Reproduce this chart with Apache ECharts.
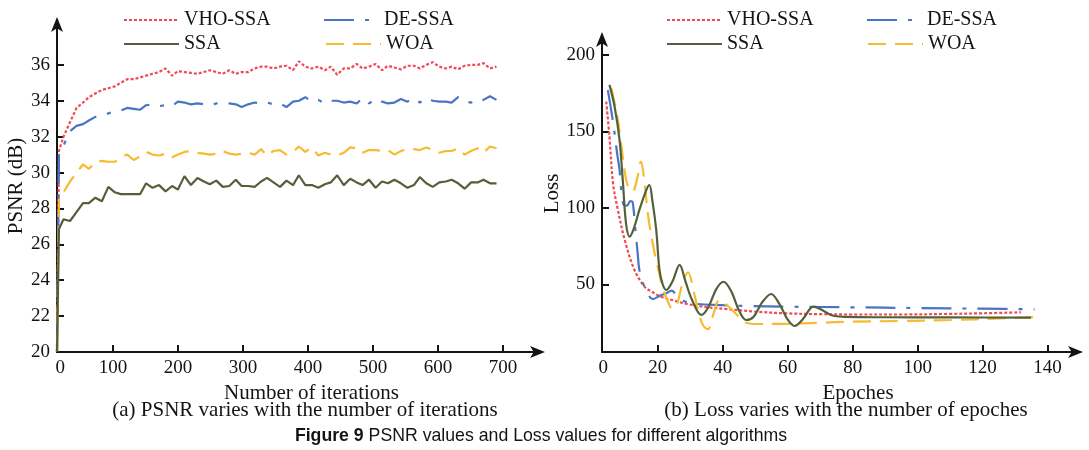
<!DOCTYPE html>
<html>
<head>
<meta charset="utf-8">
<script src="https://cdn.jsdelivr.net/npm/echarts@6/dist/echarts.min.js"></script>
<style>html,body{margin:0;padding:0;background:#fff;}#c{width:1089px;height:450px;}</style>
</head>
<body>
<div id="c"></div>
<script>
// ---- (a) PSNR vs iterations ----
const iterations = [14,17,24,34,44,54,63,73,83,93,103,112,122,132,142,151,161,171,181,191,200,210,220,230,240,249,259,269,279,289,298,308,318,328,337,347,357,367,377,386,396,406,416,426,435,445,455,465,475,484,494,504,514,523,533,543,553,563,572,582,592,602,612,621,631,641,651,661,670,680,690];
const psnrVHO = [20,31.2,32.0,32.8,33.6,33.9,34.2,34.4,34.6,34.7,34.8,35.0,35.2,35.2,35.3,35.4,35.5,35.6,35.8,35.4,35.65,35.6,35.55,35.5,35.6,35.7,35.6,35.5,35.7,35.5,35.6,35.6,35.8,35.9,35.9,35.8,35.9,35.95,35.7,36.2,35.9,35.8,35.9,35.7,35.9,35.45,35.8,35.8,36.05,35.8,35.9,36.05,35.7,35.95,35.85,35.75,35.95,35.95,35.8,36.0,36.15,35.9,35.8,35.9,35.75,35.95,36.0,36.0,36.1,35.8,35.9];
const psnrDE = [20,31.1,31.5,32.3,32.6,32.7,32.9,33.1,33.15,33.3,33.4,33.45,33.6,33.55,33.5,33.75,33.8,33.7,33.75,33.7,33.95,33.9,33.8,33.85,33.8,33.75,33.85,33.9,33.85,33.8,33.65,33.8,33.9,33.85,33.9,33.8,33.85,33.65,33.95,34.0,34.2,33.95,34.05,33.85,34.0,34.0,33.9,33.95,33.85,34.15,33.85,34.1,33.95,33.85,33.9,34.1,33.95,34.15,33.9,34.15,34.0,33.95,33.95,33.9,34.2,33.95,33.9,34.1,34.05,34.25,34.05];
const psnrSSA = [20,26.85,27.4,27.3,27.8,28.3,28.3,28.6,28.4,29.2,28.9,28.8,28.8,28.8,28.8,29.4,29.15,29.3,28.95,29.25,29.05,29.8,29.3,29.7,29.5,29.35,29.55,29.2,29.25,29.6,29.25,29.25,29.2,29.5,29.7,29.45,29.2,29.55,29.3,29.85,29.3,29.3,29.15,29.35,29.45,29.85,29.3,29.65,29.45,29.3,29.6,29.15,29.5,29.4,29.6,29.4,29.15,29.3,29.75,29.4,29.2,29.45,29.5,29.6,29.4,29.1,29.45,29.45,29.6,29.4,29.4];
const psnrWOA = [20,28.5,28.9,29.5,30.0,30.45,30.2,30.6,30.65,30.6,30.6,30.85,31.0,30.7,30.9,31.15,31.0,30.95,31.05,30.85,31.0,31.15,31.2,31.1,31.05,31.0,31.05,31.2,31.05,31.0,31.05,31.1,31.0,31.3,30.95,31.2,31.25,31.0,31.15,31.45,31.15,31.4,30.95,31.1,31.0,30.95,31.1,31.4,31.35,31.1,31.25,31.25,31.2,31.25,31.0,31.2,31.3,31.3,31.25,31.4,31.25,31.1,31.2,31.2,31.35,31.0,31.2,31.35,31.1,31.45,31.35];
const iterTicks = [100,200,300,400,500,600,700];
const psnrTicks = [22,24,26,28,30,32,34,36];

// ---- (b) Loss vs epoches ----
const epochVHO = [4.1,5.1,6.2,7.7,9.8,12.8,15.9,18,21,25,29,35,41,50,59,70,80,95,110,120,131.8];
const lossVHO  = [169.5,146.6,116,98.7,79.1,59.5,48.6,45.5,42,39.5,37.3,35.2,34,32.3,31.2,30.6,30.4,30.4,30.8,31.2,31.8];
const epochDE = [4.6,6.2,7.5,8.2,8.8,9.5,10.5,11.5,12.2,12.9,13.8,14.4,16,18.5,20.5,22.6,24.3,26,28.2,32,40,47,60,80,100,120,136];
const lossDE  = [177,156,135,125,110,102,101.5,104.5,104,90,70,58.5,48,40.5,42.5,44.3,46,42,39,37.3,36.5,36,35.5,35.1,34.6,34.2,33.8];
const epochSSA = [5.1,6.7,8.2,9.2,10.2,11.3,12.5,14.5,16.5,17.4,18.3,19.5,20.5,21.5,22.6,24.5,26.7,28.5,30.5,33.4,35.5,38,40.2,42.5,45,47.2,49.5,52,54.9,57.5,60,62.1,64.5,67,68,70,72,74.4,78,89.8,110,134.9];
const lossSSA  = [180.4,166,144.5,118,90,81.3,86,100,112,115,105,85.6,59.5,50,46.4,52,62.8,52,40,30.1,35,47,51.8,46,33,26.8,29,38,43.8,37,27,22.9,27,34.5,35.5,34,31.5,29.4,28.8,28.6,28.5,28.3];
const epochWOA = [5.7,7.5,8.8,9.8,10.8,12.2,13.5,14.8,15.8,17,18.6,20.2,21.5,22.9,24.5,26,27.5,29.3,31,32.6,34,35.4,37,39,41,43.9,46,47.7,50,59,70,79.5,95,110.3,125,136.4];
const lossWOA  = [178,160,140,123.8,114,110.8,118,130.3,118.5,95,74.7,59.5,48,39.9,34,38,50,58,46,31.2,23,20.8,30,40,37,31.2,26.5,24.7,24.2,24.3,25,25.7,26.2,26.8,27.8,28.8];
const epochTicks = [20,40,60,80,100,120,140];
const lossTicks = [50,100,150,200];

const colors = {'VHO-SSA':'#f04a52','DE-SSA':'#4a74c4','SSA':'#53603a','WOA':'#f6bb2e'};
const dashes = {'VHO-SSA':[3,2],'DE-SSA':[30,11,4,11],'SSA':'solid','WOA':[18,9]};

const serif = 'Liberation Serif';
const ink = '#141414';
const pairs = (xs, ys) => xs.map((x,i)=>[x, ys[i]]);

function axisCommon(extra){
  return Object.assign({
    type:'value',
    splitLine:{show:false},
    axisLine:{show:true, onZero:false, lineStyle:{color:ink,width:2}, symbol:['none','arrow'], symbolSize:[9,15], symbolOffset:[0,3]},
    nameTextStyle:{color:ink, fontFamily:serif, fontSize:21},
    nameLocation:'middle'
  }, extra);
}
const tickStyle = (vals)=>({show:true, inside:true, length:7, lineStyle:{color:ink,width:2}, customValues:vals});
const labelStyle = (vals, fmt)=>({color:ink, fontFamily:serif, fontSize:19, margin:7, customValues:vals, formatter:fmt});

function mkSeries(name, data, xi, smooth){
  return {
    type:'line', name, xAxisIndex:xi, yAxisIndex:xi, data, showSymbol:false, symbol:'none',
    smooth: smooth ? 0.35 : false,
    lineStyle:{color:colors[name], width:2.2, type:dashes[name]},
    itemStyle:{color:colors[name]}, z: name==='SSA'?3:2
  };
}

function legendItem(name, left, top){
  return {data:[name], left, top, itemWidth:55, itemHeight:12, itemGap:0, padding:0, selectedMode:false,
    itemStyle:{color:'transparent', borderColor:'transparent', borderWidth:0, opacity:0},
    textStyle:{color:ink, fontFamily:serif, fontSize:20}};
}

const xAxisA = axisCommon({gridIndex:0, min:14, max:760,
  axisTick:tickStyle(iterTicks),
  axisLabel:labelStyle([19].concat(iterTicks), v=> Math.abs(v-19)<0.5?'0':String(v)),
  name:'Number of iterations', nameGap:20, nameTextStyle:{color:ink, fontFamily:serif, fontSize:21, padding:[0,0,0,24]}
});
const yAxisA = axisCommon({gridIndex:0, min:20, max:38.5,
  axisTick:tickStyle(psnrTicks),
  axisLabel:labelStyle([20].concat(psnrTicks)),
  name:'PSNR (dB)', nameGap:30
});
const xAxisB = axisCommon({gridIndex:1, min:2.8, max:150,
  axisTick:tickStyle(epochTicks),
  axisLabel:labelStyle([3.2].concat(epochTicks), v=> Math.abs(v-3.2)<0.1?'0':String(v)),
  name:'Epoches', nameGap:20, nameTextStyle:{color:ink, fontFamily:serif, fontSize:21, padding:[0,0,0,34]}
});
const yAxisB = axisCommon({gridIndex:1, min:5.9, max:213,
  axisTick:tickStyle(lossTicks),
  axisLabel:labelStyle(lossTicks),
  name:'Loss', nameGap:38
});

const series = [
  mkSeries('VHO-SSA', pairs(iterations, psnrVHO), 0, false),
  mkSeries('DE-SSA', pairs(iterations, psnrDE), 0, false),
  mkSeries('SSA', pairs(iterations, psnrSSA), 0, false),
  mkSeries('WOA', pairs(iterations, psnrWOA), 0, false),
  mkSeries('VHO-SSA', pairs(epochVHO, lossVHO), 1, true),
  mkSeries('DE-SSA', pairs(epochDE, lossDE), 1, true),
  mkSeries('SSA', pairs(epochSSA, lossSSA), 1, true),
  mkSeries('WOA', pairs(epochWOA, lossWOA), 1, true)
];

const chart = echarts.init(document.getElementById('c'), null, {renderer:'canvas'});
chart.setOption({
  animation:false,
  backgroundColor:'#fff',
  grid:[
    {left:57, top:20, width:485, height:332},
    {left:602, top:35, width:478, height:317}
  ],
  xAxis:[xAxisA, xAxisB],
  yAxis:[yAxisA, yAxisB],
  legend:[
    legendItem('VHO-SSA',123,10), legendItem('DE-SSA',323,10),
    legendItem('SSA',123,34), legendItem('WOA',325,34),
    legendItem('VHO-SSA',666,10), legendItem('DE-SSA',866,10),
    legendItem('SSA',666,34), legendItem('WOA',867,34)
  ],
  graphic:[
    {type:'text', x:305, y:410, style:{text:'(a) PSNR varies with the number of iterations', fill:ink, font:'21px "Liberation Serif"', textAlign:'center', textVerticalAlign:'middle'}},
    {type:'text', x:846, y:410, style:{text:'(b) Loss varies with the number of epoches', fill:ink, font:'21px "Liberation Serif"', textAlign:'center', textVerticalAlign:'middle'}},
    {type:'text', x:541, y:436, style:{text:'{b|Figure 9} PSNR values and Loss values for different algorithms', fill:ink, fontFamily:'Liberation Sans', fontSize:17.7, textAlign:'center', textVerticalAlign:'middle', rich:{b:{fontWeight:'bold', fontFamily:'Liberation Sans', fontSize:17.7, fill:ink}}}}
  ],
  series
});
</script>
</body>
</html>
